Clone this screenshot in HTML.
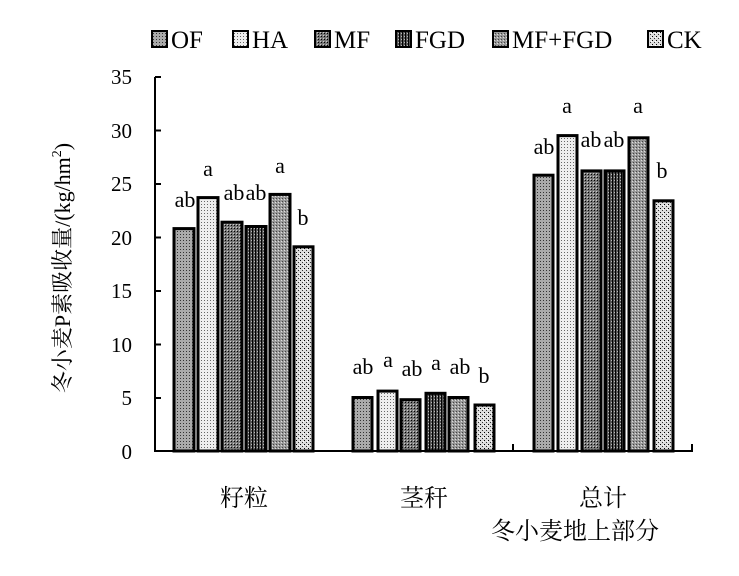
<!DOCTYPE html>
<html><head><meta charset="utf-8"><style>body{margin:0;background:#fff}svg text{font-family:"Liberation Serif","Times New Roman","Noto Serif CJK SC",serif}</style></head><body>
<svg width="739" height="571" xmlns="http://www.w3.org/2000/svg">
<defs>
<pattern id="p0" width="3" height="3" patternUnits="userSpaceOnUse"><rect width="3" height="3" fill="#aaa"/><rect width="1" height="1" fill="#333"/></pattern>
<pattern id="p1" width="3" height="3" patternUnits="userSpaceOnUse"><rect width="3" height="3" fill="#eee"/><rect width="1" height="1" fill="#666"/></pattern>
<pattern id="p2" width="3" height="3" patternUnits="userSpaceOnUse"><rect width="3" height="3" fill="#777"/><rect width="1" height="1" fill="#000"/><rect x="2" y="2" width="1" height="1" fill="#ccc"/></pattern>
<pattern id="p3" width="3" height="3" patternUnits="userSpaceOnUse"><rect width="3" height="3" fill="#555"/><rect width="1" height="3" fill="#000"/><rect x="2" width="1" height="1" fill="#bbb"/></pattern>
<pattern id="p4" width="3" height="3" patternUnits="userSpaceOnUse"><rect width="3" height="3" fill="#999"/><rect width="1" height="1" fill="#444"/><rect x="2" y="1" width="1" height="1" fill="#ddd"/></pattern>
<pattern id="p5" width="4" height="4" patternUnits="userSpaceOnUse"><rect width="4" height="4" fill="#ddd"/><rect width="1" height="1" fill="#000"/><rect x="2" y="2" width="1" height="1" fill="#333"/><rect x="3" y="1" width="1" height="1" fill="#fff"/></pattern>
</defs>
<g font-size="25">
<rect x="152" y="31" width="15" height="16" fill="url(#p0)" stroke="#000" stroke-width="2"/><text x="171" y="48">OF</text>
<rect x="233" y="31" width="15" height="16" fill="url(#p1)" stroke="#000" stroke-width="2"/><text x="252" y="48">HA</text>
<rect x="315" y="31" width="15" height="16" fill="url(#p2)" stroke="#000" stroke-width="2"/><text x="334" y="48">MF</text>
<rect x="396" y="31" width="15" height="16" fill="url(#p3)" stroke="#000" stroke-width="2"/><text x="415" y="48">FGD</text>
<rect x="493" y="31" width="15" height="16" fill="url(#p4)" stroke="#000" stroke-width="2"/><text x="512" y="48">MF+FGD</text>
<rect x="648" y="31" width="15" height="16" fill="url(#p5)" stroke="#000" stroke-width="2"/><text x="667" y="48">CK</text>
</g>
<g stroke="#000" stroke-width="2">
<line x1="155" y1="77" x2="155" y2="452"/>
<line x1="154" y1="451" x2="693" y2="451"/>
<line x1="513" y1="451" x2="513" y2="444"/><line x1="692" y1="451" x2="692" y2="444"/>
<line x1="155" y1="77" x2="161" y2="77"/><line x1="155" y1="130.5" x2="161" y2="130.5"/><line x1="155" y1="184" x2="161" y2="184"/><line x1="155" y1="237.5" x2="161" y2="237.5"/><line x1="155" y1="291" x2="161" y2="291"/><line x1="155" y1="344.5" x2="161" y2="344.5"/><line x1="155" y1="398" x2="161" y2="398"/>
</g>
<g font-size="21" text-anchor="end">
<text x="132" y="84">35</text><text x="132" y="138">30</text><text x="132" y="191">25</text><text x="132" y="245">20</text><text x="132" y="298">15</text><text x="132" y="352">10</text><text x="132" y="405">5</text><text x="132" y="459">0</text>
</g>
<text transform="translate(70,268) rotate(-90)" font-size="22" text-anchor="middle">冬小麦P素吸收量/(kg/hm<tspan font-size="14" dy="-9">2</tspan><tspan dy="9">)</tspan></text>
<g stroke="#000" stroke-width="3">
<rect x="174" y="228.6" width="20" height="222.4" fill="url(#p0)"/>
<rect x="198" y="197.6" width="20" height="253.4" fill="url(#p1)"/>
<rect x="222" y="222.2" width="20" height="228.8" fill="url(#p2)"/>
<rect x="246" y="226.5" width="20" height="224.5" fill="url(#p3)"/>
<rect x="270" y="194.4" width="20" height="256.6" fill="url(#p4)"/>
<rect x="294" y="246.8" width="19" height="204.2" fill="url(#p5)"/>
<rect x="353" y="397.5" width="19" height="53.5" fill="url(#p0)"/>
<rect x="378" y="391.1" width="19" height="59.9" fill="url(#p1)"/>
<rect x="401" y="399.7" width="19" height="51.3" fill="url(#p2)"/>
<rect x="426" y="393.3" width="19" height="57.7" fill="url(#p3)"/>
<rect x="449" y="397.5" width="19" height="53.5" fill="url(#p4)"/>
<rect x="475" y="405" width="19" height="46" fill="url(#p5)"/>
<rect x="534" y="175.2" width="19" height="275.8" fill="url(#p0)"/>
<rect x="558" y="135.6" width="19" height="315.4" fill="url(#p1)"/>
<rect x="582" y="170.9" width="19" height="280.1" fill="url(#p2)"/>
<rect x="605" y="170.9" width="19" height="280.1" fill="url(#p3)"/>
<rect x="629" y="137.8" width="19" height="313.2" fill="url(#p4)"/>
<rect x="654" y="200.8" width="19" height="250.2" fill="url(#p5)"/>
</g>
<g font-size="22" text-anchor="middle">
<text x="185" y="207">ab</text><text x="208" y="176">a</text><text x="234" y="200">ab</text><text x="256" y="200">ab</text><text x="280" y="173">a</text><text x="303" y="225">b</text>
<text x="363" y="374">ab</text><text x="388" y="367">a</text><text x="412" y="376">ab</text><text x="436" y="370">a</text><text x="460" y="374">ab</text><text x="484" y="383">b</text>
<text x="544" y="154">ab</text><text x="567" y="113">a</text><text x="591" y="147">ab</text><text x="614" y="147">ab</text><text x="638" y="113">a</text><text x="662" y="178">b</text>
</g>
<g font-size="24" text-anchor="middle">
<text x="244" y="506">籽粒</text><text x="424" y="506">茎秆</text><text x="603" y="506">总计</text><text x="575" y="539">冬小麦地上部分</text>
</g>
</svg>
</body></html>
